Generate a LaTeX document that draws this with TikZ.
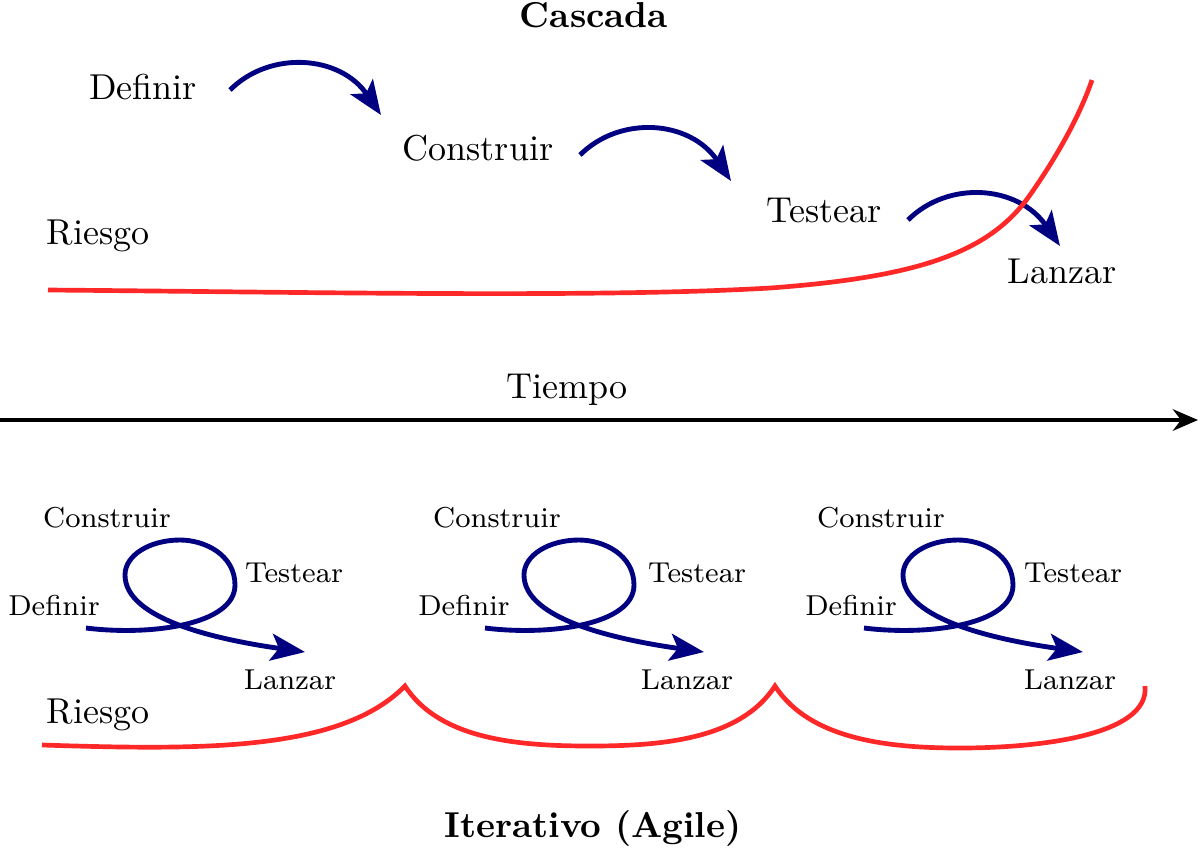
\documentclass[tikz,border=0pt]{standalone}
\usetikzlibrary{arrows.meta}
\definecolor{flowblue}{RGB}{0,0,128}
\definecolor{riskred}{RGB}{255,40,40}
\begin{document}
\begin{tikzpicture}[x=0.2778pt,y=-0.2778pt,
  flow/.style={draw=flowblue,line width=1.35pt,-{Stealth[length=9.5pt,width=7.5pt,inset=2.2pt]}},
  risk/.style={draw=riskred,line width=1.3pt},
  axis/.style={draw=black,line width=1pt,-{Stealth[length=7pt,width=6pt]}},
  lbl/.style={inner sep=0pt,font=\normalsize},
  sml/.style={inner sep=0pt,font=\footnotesize},
  ttl/.style={inner sep=0pt,font=\bfseries}]
\useasboundingbox (0,0) rectangle (1200,848);
% titles
\node[ttl] (tcasc) at (594,15) {Cascada};
\node[ttl] (titer) at (593,828) {Iterativo (Agile)};
% waterfall labels
\node[lbl] (def) at (143,87) {Definir};
\node[lbl] (con) at (478,148) {Construir};
\node[lbl] (tes) at (824,210) {Testear};
\node[lbl] (lan) at (1062,271) {Lanzar};
\node[lbl] (ries1) at (98,236) {Riesgo};
% waterfall arrows
\coordinate (a1s) at (230,90);  \coordinate (a1e) at (381,115);
\coordinate (a2s) at (580,155); \coordinate (a2e) at (731,181);
\coordinate (a3s) at (908,220); \coordinate (a3e) at (1060,246);
\draw[flow] (a1s) .. controls (270,50) and (340,55) .. (a1e);
\draw[flow] (a2s) .. controls (620,115) and (690,120) .. (a2e);
\draw[flow] (a3s) .. controls (948,180) and (1018,185) .. (a3e);
% waterfall risk
\draw[risk] (48,290) .. controls (300,292) and (600,298) .. (770,288)
  .. controls (920,277) and (990,252) .. (1030,195)
  .. controls (1058,155) and (1080,115) .. (1092,80);
% time axis
\coordinate (axs) at (0,420); \coordinate (axe) at (1198,420);
\draw[axis] (axs) -- (axe);
\node[lbl] (tiempo) at (567,390) {Tiempo};
% iterative labels
\node[sml] (c1) at (107,518) {Construir};
\node[sml] (t1) at (294,573) {Testear};
\node[sml] (d1) at (54,605) {Definir};
\node[sml] (l1) at (290,680) {Lanzar};
\node[sml] (c2) at (497,518) {Construir};
\node[sml] (t2) at (697,573) {Testear};
\node[sml] (d2) at (464,605) {Definir};
\node[sml] (l2) at (687,680) {Lanzar};
\node[sml] (c3) at (881,518) {Construir};
\node[sml] (t3) at (1073,573) {Testear};
\node[sml] (d3) at (851,605) {Definir};
\node[sml] (l3) at (1070,680) {Lanzar};
\node[lbl] (ries2) at (98,715) {Riesgo};
% loops
\foreach \dx in {0,399,778}{
  \draw[flow] ({86+\dx},628) .. controls ({150+\dx},636) and ({235+\dx},625) .. ({235+\dx},585)
    .. controls ({235+\dx},555) and ({205+\dx},540) .. ({180+\dx},540)
    .. controls ({150+\dx},540) and ({125+\dx},555) .. ({125+\dx},575)
    .. controls ({125+\dx},620) and ({220+\dx},640) .. ({305+\dx},652);
}
% iterative risk
\draw[risk] (42,745) .. controls (200,750) and (340,752) .. (405,686)
  .. controls (440,740) and (520,746) .. (590,746)
  .. controls (660,746) and (740,740) .. (775,686)
  .. controls (810,740) and (890,748) .. (960,748)
  .. controls (1040,748) and (1150,735) .. (1145,686);
\end{tikzpicture}
\end{document}
